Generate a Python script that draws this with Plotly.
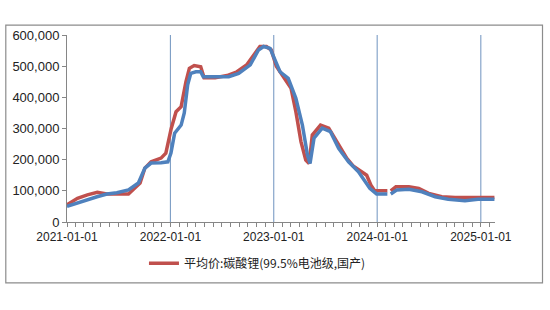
import plotly.graph_objects as go

# Red series: 平均价:碳酸锂(99.5%电池级,国产)
red_dates = ["2021-01-01", "2021-01-20", "2021-02-07", "2021-03-14", "2021-04-18", "2021-05-22", "2021-08-06",
             "2021-09-16", "2021-10-03", "2021-10-25", "2021-11-29", "2021-12-16", "2022-01-04",
             "2022-01-21", "2022-02-08", "2022-02-25", "2022-03-09", "2022-03-26", "2022-04-18",
             "2022-04-30", "2022-06-08", "2022-07-20", "2022-08-24", "2022-09-27", "2022-10-26",
             "2022-11-13", "2022-12-06", "2022-12-23", "2023-01-10", "2023-02-08", "2023-03-03",
             "2023-03-20", "2023-04-07", "2023-04-24", "2023-05-06", "2023-05-17", "2023-06-15",
             "2023-07-14", "2023-08-12", "2023-09-16", "2023-10-08", "2023-10-21", "2023-11-25",
             "2023-12-10", "2023-12-23", "2024-02-06", "2024-02-10", "2024-02-18", "2024-03-07",
             "2024-04-22", "2024-05-27", "2024-07-01", "2024-08-16", "2024-10-02", "2024-11-17",
             "2025-01-02", "2025-02-18"]
red_values = [55000, 66000, 76000, 87000, 95000, 90000, 90000,
              125000, 173000, 193000, 205000, 221000, 300000,
              354000, 370000, 450000, 493000, 502000, 498000,
              463000, 463000, 470000, 482000, 504000, 541000,
              563000, 563000, 552000, 500000, 461000, 429000,
              354000, 258000, 199000, 188000, 279000, 311000,
              301000, 258000, 204000, 180000, 172000, 150000,
              118000, 100000, 100000, None, 100000, 113000,
              113000, 108000, 92000, 81000, 79000, 79000,
              79000, 79000]

# Blue series (second source, no legend entry)
blue_dates = ["2021-01-01", "2021-02-06", "2021-03-13", "2021-04-17", "2021-05-22", "2021-06-26",
              "2021-08-06", "2021-09-10", "2021-10-03", "2021-10-25", "2021-11-29", "2021-12-23",
              "2022-01-03", "2022-01-10", "2022-01-16", "2022-02-08", "2022-02-19", "2022-03-03",
              "2022-03-14", "2022-04-01", "2022-04-18", "2022-04-27", "2022-06-15", "2022-07-26",
              "2022-08-30", "2022-10-10", "2022-11-08", "2022-11-26", "2022-12-19", "2023-01-06",
              "2023-01-23", "2023-02-21", "2023-03-20", "2023-04-12", "2023-04-30", "2023-05-09",
              "2023-05-23", "2023-06-21", "2023-07-20", "2023-08-18", "2023-09-22", "2023-10-27",
              "2023-12-06", "2023-12-30", "2024-02-06", "2024-02-10", "2024-02-18", "2024-03-11",
              "2024-04-22", "2024-06-07", "2024-07-24", "2024-09-08", "2024-11-06", "2024-12-22",
              "2025-02-18"]
blue_values = [50000, 61000, 70000, 81000, 90000, 94000,
               103000, 125000, 173000, 189000, 190000, 193000,
               221000, 253000, 285000, 311000, 350000, 440000,
               477000, 482000, 482000, 466000, 466000, 466000,
               477000, 504000, 552000, 563000, 557000, 520000,
               482000, 461000, 397000, 311000, 215000, 188000,
               269000, 301000, 290000, 236000, 193000, 161000,
               108000, 90000, 90000, None, 90000, 103000,
               105000, 97000, 81000, 73000, 68000, 73000,
               73000]

year_ticks = ["2021-01-01", "2022-01-01", "2023-01-01", "2024-01-01", "2025-01-01"]
y_ticks = [0, 100000, 200000, 300000, 400000, 500000, 600000]
series_name = "平均价:碳酸锂(99.5%电池级,国产)"

fig = go.Figure()
fig.add_trace(go.Scatter(x=red_dates, y=red_values, mode="lines", name=series_name,
                         line=dict(color="#C0504D", width=3.5), connectgaps=False))
fig.add_trace(go.Scatter(x=blue_dates, y=blue_values, mode="lines", name="blue", showlegend=False,
                         line=dict(color="#4F81BD", width=3.5), connectgaps=False))

shapes = []
for d in year_ticks[1:]:
    shapes.append(dict(type="line", xref="x", yref="paper", x0=d, x1=d, y0=0, y1=1,
                       line=dict(color="#6F93BF", width=1), layer="below"))
# outer chart border
shapes.append(dict(type="rect", xref="paper", yref="paper", x0=-0.143, x1=1.111, y0=-0.326, y1=1.053,
                   line=dict(color="#8C8C8C", width=1.2)))

fig.update_layout(
    width=550, height=310,
    margin=dict(l=62, r=55, t=35, b=88),
    paper_bgcolor="white", plot_bgcolor="white",
    font=dict(family="Liberation Sans, Arial, sans-serif", size=12, color="#222222"),
    shapes=shapes,
    showlegend=True,
    legend=dict(orientation="h", x=0.445, xanchor="center", y=-0.22, yanchor="middle",
                font=dict(family="Noto Sans CJK SC, sans-serif", size=12, color="#222222"),
                bgcolor="rgba(0,0,0,0)"),
    xaxis=dict(type="date", range=["2021-01-01", "2025-02-20"],
               tickvals=year_ticks, ticktext=year_ticks,
               showgrid=False, zeroline=False, showline=True, linecolor="#868686", linewidth=1,
               ticks="outside", ticklen=4, tickcolor="#868686",
               minor=dict(dtick="M1", tick0="2021-01-01", ticks="outside", ticklen=4,
                          tickcolor="#868686", showgrid=False),
               tickfont=dict(size=12)),
    yaxis=dict(range=[0, 600000], tickvals=y_ticks, tickformat=",",
               showgrid=False, zeroline=False, showline=True, linecolor="#868686", linewidth=1,
               ticks="outside", ticklen=4, tickcolor="#868686",
               tickfont=dict(size=13)),
)

fig.write_html("out.html")
